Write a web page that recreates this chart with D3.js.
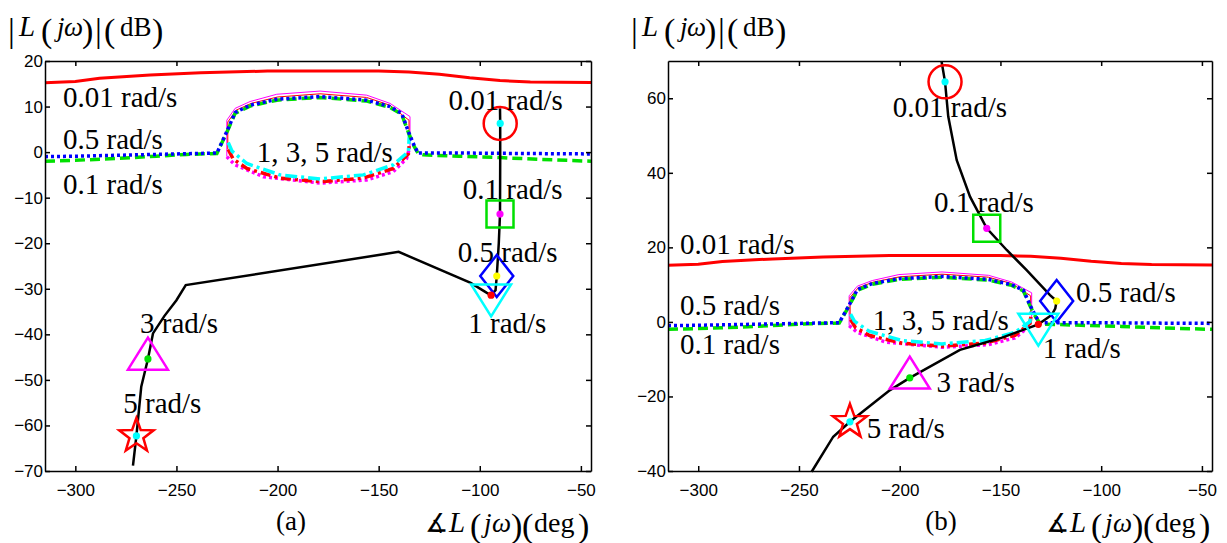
<!DOCTYPE html>
<html>
<head>
<meta charset="utf-8">
<script src="https://cdn.jsdelivr.net/npm/d3@7"></script>
<style>
  body { margin: 0; background: #fff; }
  .tick text { font-family: "Liberation Sans", Arial, sans-serif; font-size: 17px; fill: #000; }
  .axis path, .axis line { stroke: #000; stroke-width: 1.5; }
  .note { font-family: "Liberation Serif", "Times New Roman", serif; font-size: 29px; fill: #000; }
  .lab { font-family: "Liberation Serif", "Times New Roman", serif; fill: #000; }
</style>
</head>
<body>
<script>
// axis setup
var xTicks = [-300, -250, -200, -150, -100, -50];
var xDomain = [-315, -45];
var yTicksA = [20, 10, 0, -10, -20, -30, -40, -50, -60, -70];
var yDomainA = [-70, 20];
var yTicksB = [60, 40, 20, 0, -20, -40];
var yDomainB = [-40, 70];

// bounds, [phase deg, magnitude dB], same in both panels
var bound001 = [[-315,15.2],[-300,15.5],[-288,16.2],[-263,16.9],[-238,17.4],[-205,17.8],[-180,17.8],[-150,17.8],[-135,17.6],[-120,17.1],[-105,16.3],[-90,15.7],[-75,15.4],[-45,15.3]];
var bound05 = [[-315,-1.0],[-300,-0.9],[-280,-0.7],[-260,-0.5],[-240,-0.3],[-230,-0.2],[-225,4.6],[-221,8.7],[-213.6,10.3],[-200.4,11.6],[-179,12.2],[-155.9,11.4],[-144.4,10],[-138.6,8.5],[-135.3,4.5],[-132.5,1.5],[-130.5,-0.2],[-110,-0.2],[-80,-0.3],[-45,-0.4]];
var bound01 = [[-315,-2.0],[-300,-1.8],[-280,-1.4],[-260,-0.9],[-245,-0.5],[-230,-0.3],[-225,4.4],[-221,8.5],[-213.6,10.1],[-200.4,11.4],[-179,12.0],[-155.9,11.2],[-144.4,9.8],[-138.6,8.3],[-135.3,4.3],[-132.5,1.3],[-130.5,-0.3],[-128,-0.6],[-110,-0.9],[-90,-1.2],[-70,-1.6],[-45,-2.0]];
var upperMag = [[-225.1,-1.0],[-225.1,7.0],[-221,9.6],[-213.6,11.1],[-200.4,12.7],[-179,13.4],[-155.9,12.5],[-144.4,10.7],[-134.5,7.8],[-134.5,1.0]];
var upperRed = [[-224.6,0.6],[-224.6,6.6],[-220.5,9.2],[-213,10.7],[-200,12.1],[-179,12.8],[-156,12.0],[-144.5,10.3],[-135,7.0],[-135,2.0]];
var lower1 = [[-224.4,2.1],[-222.5,0.2],[-215.2,-2.5],[-198.8,-5.0],[-179,-5.9],[-157.6,-5.0],[-142.8,-2.8],[-135.3,0.1],[-134.8,4.1]];
var lower5 = [[-224.4,0.6],[-222,-1.5],[-215.2,-3.6],[-198.8,-5.7],[-179,-6.5],[-157.6,-5.7],[-142.8,-3.6],[-135.3,-0.4],[-134.8,1.9]];
var lower3 = [[-225.1,-1.0],[-221,-2.8],[-207,-5.4],[-179,-6.8],[-155.9,-6.1],[-142.8,-4.3],[-136.2,-1.4],[-135,0.5]];

// loop responses
var loopA = [[-90,9.6],[-89.9,6.3],[-89.9,-2],[-90,-13.6],[-90.6,-20],[-91.6,-27.2],[-92.2,-30.3],[-94.4,-31.4],[-96.5,-30.9],[-104.5,-28.7],[-140.1,-21.9],[-245.4,-29.2],[-250,-32.5],[-256,-36],[-261.6,-39.8],[-264.1,-45.4],[-267.4,-51.5],[-269.8,-62.3],[-271.5,-68.8]];
var loopB = [[-179.2,69.8],[-177.5,64.4],[-175.9,55.1],[-171.7,43.4],[-165.1,33.6],[-156.8,25.1],[-146.9,19.3],[-137,13.9],[-125.4,7.2],[-122.1,5.6],[-122.8,3.6],[-124.6,1.85],[-131.2,-0.65],[-150.2,-4.4],[-170.1,-7.5],[-195,-15],[-204.8,-18.3],[-224.7,-26.8],[-233,-30.8],[-243.7,-40.2]];

// frequency points 0.01, 0.1, 0.5, 1, 3, 5 rad/s
var freqs = [0.01, 0.1, 0.5, 1, 3, 5];
var markA = [[-89.9,6.3],[-90,-13.6],[-91.6,-27.2],[-94.4,-31.4],[-264.1,-45.4],[-269.8,-62.3]];
var markB = [[-177.5,64.4],[-156.8,25.1],[-122.1,5.6],[-131.2,-0.65],[-195,-15],[-224.7,-26.8]];

// text notes, [text, deg, dB]
var notesA = [["0.01 rad/s",-306.1,9.9],["0.5 rad/s",-306.1,0.7],["0.1 rad/s",-306.1,-9.2],["1, 3, 5 rad/s",-210.3,-2.1],["0.01 rad/s",-115.5,9.2],["0.1 rad/s",-108.4,-10.4],["0.5 rad/s",-110.9,-24.1],["1 rad/s",-105.7,-39.6],["3 rad/s",-268,-39.8],["5 rad/s",-276.3,-57.3]];
var notesB = [["0.01 rad/s",-309,18.2],["0.5 rad/s",-309,1.85],["0.1 rad/s",-309,-8.6],["1, 3, 5 rad/s",-213.4,-2.2],["0.01 rad/s",-203.5,55.1],["0.1 rad/s",-183,29.6],["0.5 rad/s",-112.5,5.4],["1 rad/s",-129,-9.7],["3 rad/s",-181.7,-18.7],["5 rad/s",-216.4,-31.2]];

var w = 1227, h = 543;
var svg = d3.select("body").append("svg")
  .attr("width", w)
  .attr("height", h);

var panels = [
  {left: 45, right: 591, top: 61, bottom: 471, yDomain: yDomainA, yTicks: yTicksA, loop: loopA, marks: markA, notes: notesA, tag: "(a)", tagX: 291},
  {left: 668, right: 1212, top: 61, bottom: 471, yDomain: yDomainB, yTicks: yTicksB, loop: loopB, marks: markB, notes: notesB, tag: "(b)", tagX: 941}
];

// marker shapes, relative to the point
function markerPath(i) {
  if (i == 0) return "M16.5,0A16.5,16.5 0 1,1 -16.5,0A16.5,16.5 0 1,1 16.5,0Z";
  if (i == 1) return "M-13.5,-13.5H13.5V13.5H-13.5Z";
  if (i == 2) return "M0,-21L16.5,0L0,21L-16.5,0Z";
  if (i == 3) return "M-20,-10.7L20,-10.7L0,21.3Z";
  if (i == 4) return "M-20,10.7L20,10.7L0,-21.3Z";
  var p = [];
  for (var k = 0; k < 10; k++) {
    var r = k % 2 == 0 ? 18 : 7.3;
    var a = -Math.PI / 2 + k * Math.PI / 5;
    p.push((r * Math.cos(a)).toFixed(2) + "," + (r * Math.sin(a)).toFixed(2));
  }
  return "M" + p.join("L") + "Z";
}
var markColors = ["#ff0000", "#00e000", "#0000ff", "#00ffff", "#ff00ff", "#ff0000"];
var dotColors = ["#00ffff", "#ff00ff", "#ffff00", "#ff0000", "#00e000", "#00ffff"];

panels.forEach(function(p) {
  var x = d3.scaleLinear().domain(xDomain).range([p.left, p.right]);
  var y = d3.scaleLinear().domain(p.yDomain).range([p.bottom, p.top]);
  var line = d3.line().x(function(d){ return x(d[0]); }).y(function(d){ return y(d[1]); });

  var g = svg.append("g");

  // bounds
  function bound(data, color, width, dash) {
    g.append("path").attr("d", line(data))
      .attr("fill", "none").attr("stroke", color)
      .attr("stroke-width", width)
      .attr("stroke-dasharray", dash);
  }
  bound(upperMag, "#ff00ff", 1, null);
  bound(upperRed, "#ff0000", 1, null);
  bound(lower3, "#ff00ff", 3.5, "3,3");
  bound(lower5, "#ff0000", 3.5, "10,4,3,4");
  bound(lower1, "#00ffff", 3.5, "12,4,3,4");
  bound(bound01, "#00e000", 3.5, "10,5");
  bound(bound05, "#0000ff", 3.5, "3,3");
  bound(bound001, "#ff0000", 3, null);

  // loop
  g.append("path").attr("d", line(p.loop))
    .attr("fill", "none").attr("stroke", "#000").attr("stroke-width", 2.5);

  // markers
  g.selectAll(".mk").data(p.marks).enter().append("path")
    .attr("transform", function(d){ return "translate(" + x(d[0]) + "," + y(d[1]) + ")"; })
    .attr("d", function(d, i){ return markerPath(i); })
    .attr("fill", "none")
    .attr("stroke", function(d, i){ return markColors[i]; })
    .attr("stroke-width", 2.5);
  g.selectAll(".dot").data(p.marks).enter().append("circle")
    .attr("cx", function(d){ return x(d[0]); })
    .attr("cy", function(d){ return y(d[1]); })
    .attr("r", 3.6)
    .attr("fill", function(d, i){ return dotColors[i]; });

  // notes
  g.selectAll(".note").data(p.notes).enter().append("text")
    .attr("class", "note")
    .attr("x", function(d){ return x(d[1]); })
    .attr("y", function(d){ return y(d[2]); })
    .text(function(d){ return d[0]; });

  // axes, ticks inward on all four sides
  svg.append("g").attr("class", "axis")
    .attr("transform", "translate(0," + p.bottom + ")")
    .call(d3.axisBottom(x).tickValues(xTicks).tickSizeInner(-5).tickSizeOuter(0).tickPadding(13));
  svg.append("g").attr("class", "axis")
    .attr("transform", "translate(0," + p.top + ")")
    .call(d3.axisTop(x).tickValues(xTicks).tickSizeInner(-5).tickSizeOuter(0).tickFormat(""));
  svg.append("g").attr("class", "axis")
    .attr("transform", "translate(" + p.left + ",0)")
    .call(d3.axisLeft(y).tickValues(p.yTicks).tickSizeInner(-5).tickSizeOuter(0).tickPadding(2));
  svg.append("g").attr("class", "axis")
    .attr("transform", "translate(" + p.right + ",0)")
    .call(d3.axisRight(y).tickValues(p.yTicks).tickSizeInner(-5).tickSizeOuter(0).tickFormat(""));

  // y label |L(jw)| (dB)
  var yl = [["|",0,34,"normal",42],["L",11,29,"italic",36],["(",33,34,"normal",42],["j",49,27,"italic",36],["\u03c9",56,27,"italic",36],[")",74,34,"normal",42],["|",87,34,"normal",42],["(",96,34,"normal",42],["dB",112,27,"normal",36],[")",144,34,"normal",42]];
  yl.forEach(function(s) {
    svg.append("text").attr("class", "lab")
      .attr("x", p.left - 37 + s[1]).attr("y", s[4])
      .style("font-size", s[2] + "px").style("font-style", s[3])
      .text(s[0]);
  });

  // x label angle L(jw) (deg)
  var xl = [["\u2221",-2,26,"normal",532],["L",22,29,"italic",532],["(",43,34,"normal",537],["j",57,27,"italic",532],["\u03c9",65,27,"italic",532],[")",84,34,"normal",537],["(",95,34,"normal",537],["deg",107,28,"normal",532],[")",151,34,"normal",537]];
  xl.forEach(function(s) {
    svg.append("text").attr("class", "lab")
      .attr("x", p.right - 164 + s[1]).attr("y", s[4])
      .style("font-size", s[2] + "px").style("font-style", s[3])
      .text(s[0]);
  });

  svg.append("text").attr("class", "lab")
    .attr("x", p.tagX).attr("y", 530)
    .style("font-size", "27px")
    .style("text-anchor", "middle")
    .text(p.tag);
});
</script>
</body>
</html>
